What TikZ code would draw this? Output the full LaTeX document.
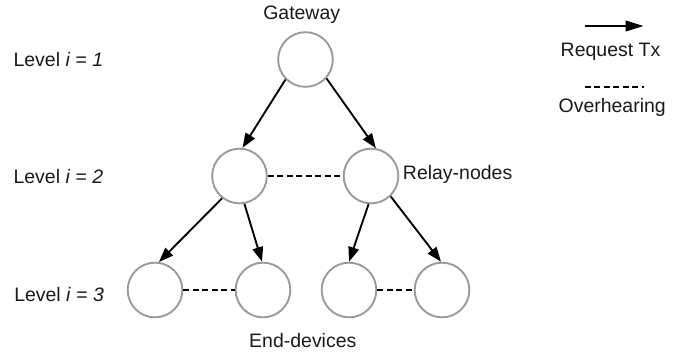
\documentclass[tikz,border=0pt]{standalone}
\usepackage{fontspec}
\setmainfont{Liberation Sans}
\usetikzlibrary{arrows.meta}
\begin{document}
\begin{tikzpicture}[x=0.75pt,y=-0.75pt,
  dev/.style={circle,draw=black!40,line width=1.4pt,minimum size=41pt,inner sep=0pt},
  req/.style={line width=1.4pt,-{Triangle[length=11pt,width=8pt]}},
  ovh/.style={line width=1.4pt,dash pattern=on 4.5pt off 2.6pt},
  lbl/.style={font=\fontsize{14.6}{17}\selectfont,inner sep=0pt,text=black!90}]
\useasboundingbox (0,0) rectangle (689,358);
% nodes
\node[dev] (g) at (305.5,59.5) {};
\node[dev] (a) at (239.5,176) {};
\node[dev] (b) at (371,176) {};
\node[dev] (c) at (155,290) {};
\node[dev] (d) at (263,290) {};
\node[dev] (e) at (349,290) {};
\node[dev] (f) at (442,290) {};
% labels
\node[lbl,anchor=base] (tg) at (301.7,19.5) {Gateway};
\node[lbl,anchor=base west] (l1) at (13.3,66) {Level \textit{i} = \textit{1}};
\node[lbl,anchor=base west] (l2) at (13.3,183.5) {Level \textit{i} = \textit{2}};
\node[lbl,anchor=base west] (l3) at (14,301.7) {Level \textit{i} = \textit{3}};
\node[lbl,anchor=base west] (tr) at (402.7,179.3) {Relay-nodes};
\node[lbl,anchor=base] (te) at (302.8,347) {End-devices};
\node[lbl,anchor=base] (tq) at (610.5,56.7) {Request Tx};
\node[lbl,anchor=base] (to) at (612.2,112.3) {Overhearing};
% request arrows
\draw[req] (g.225) -- (a.84);
\draw[req] (g.318) -- (b.80);
\draw[req] (a.232) -- (c.82);
\draw[req] (a.280) -- (d.92);
\draw[req] (b.265) -- (e.90);
\draw[req] (b.314) -- (f.92);
% overhearing
\draw[ovh] (a) -- (b);
\draw[ovh] (c) -- (d);
\draw[ovh] (e) -- (f);
% legend
\coordinate (r1) at (585,26);
\coordinate (r2) at (643.5,26);
\draw[line width=1.4pt,-{Triangle[length=13.5pt,width=8pt]}] (r1) -- (r2);
\coordinate (o1) at (585,87);
\coordinate (o2) at (644,87);
\draw[ovh] (o1) -- (o2);
\end{tikzpicture}
\end{document}
